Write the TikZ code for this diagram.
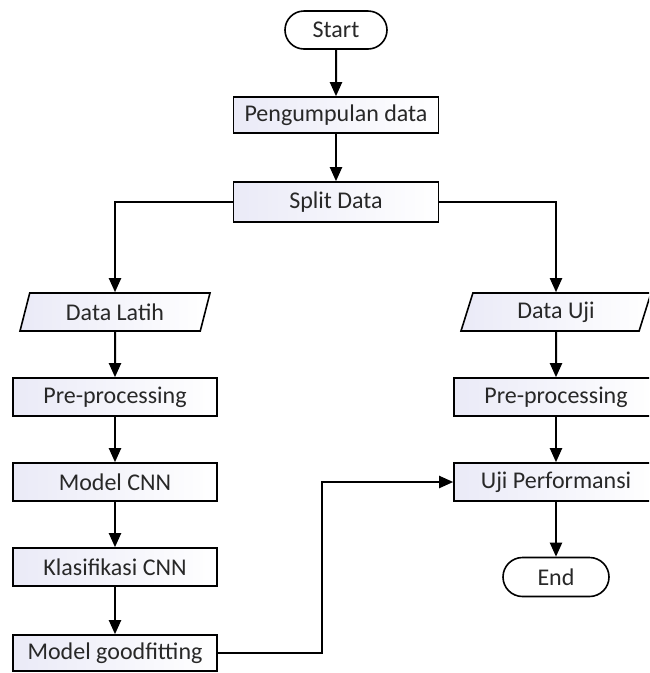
\documentclass[tikz,border=0pt]{standalone}
\usepackage{fontspec}
\setmainfont{Carlito}
\usetikzlibrary{shapes.geometric,shapes.misc,arrows.meta}

\definecolor{boxfill}{RGB}{234,234,247}
\definecolor{inkgray}{RGB}{40,40,40}

\begin{document}
\begin{tikzpicture}[x=1pt,y=-1pt,
  every node/.style={font=\fontsize{24}{28}\selectfont,text=inkgray,inner sep=0pt},
  box/.style={draw,line width=1.6pt,minimum width=204pt,minimum height=38pt,
    left color=boxfill,right color=white},
  term/.style={draw,line width=1.6pt,rounded rectangle,minimum width=102pt,
    minimum height=38pt,fill=white},
  io/.style={draw,line width=1.6pt,trapezium,trapezium left angle=60,
    trapezium right angle=120,trapezium stretches body,minimum width=190pt,
    minimum height=38pt,left color=boxfill,right color=white},
  arr/.style={line width=2pt,-{Triangle[width=12pt,length=14pt]}}]

\clip (0,0) rectangle (649,673);
\fill[white] (0,0) rectangle (649,673);

% main column
\node[term] (start) at (336,30) {Start};
\node[box,minimum width=205pt,minimum height=36pt] (collect) at (336,115) {Pengumpulan data};
\node[box,minimum width=205pt,minimum height=40pt] (split) at (336,202) {Split Data};

% training branch
\node[io] (trainset) at (115,312) {Data Latih};
\node[box] (prepL) at (115,397) {Pre-processing};
\node[box] (cnn) at (115,482) {Model CNN};
\node[box] (classify) at (115,567) {Klasifikasi CNN};
\node[box,minimum height=36pt] (goodfit) at (115,653) {Model goodfitting};

% testing branch
\node[io] (testset) at (556,312) {Data Uji};
\node[box] (prepR) at (556,397) {Pre-processing};
\node[box] (perf) at (556,482) {Uji Performansi};
\node[term,minimum width=106pt,minimum height=39pt] (end) at (556,577) {End};

\draw[arr] (start) -- (collect);
\draw[arr] (collect) -- (split);
\draw[arr] (split.west) -| (trainset.north);
\draw[arr] (split.east) -| (testset.north);

\draw[arr] (trainset) -- (prepL);
\draw[arr] (prepL) -- (cnn);
\draw[arr] (cnn) -- (classify);
\draw[arr] (classify) -- (goodfit);

\draw[arr] (testset) -- (prepR);
\draw[arr] (prepR) -- (perf);
\draw[arr] (perf) -- (end);

\draw[arr] (goodfit.east) -- ++(104,0) |- (perf.west);

\end{tikzpicture}
\end{document}
